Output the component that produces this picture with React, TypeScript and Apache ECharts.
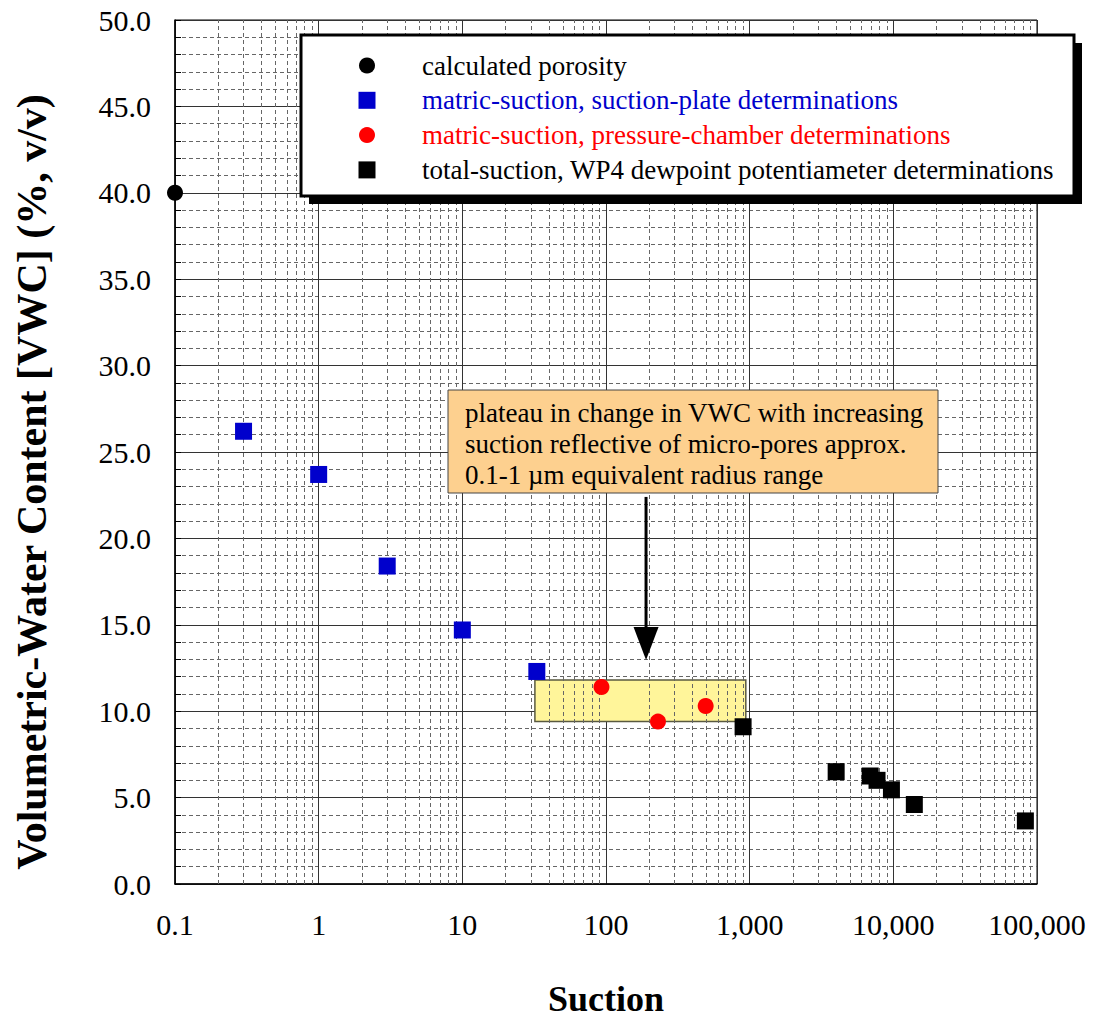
import React, { useEffect, useRef } from 'react';
import * as echarts from 'echarts';

// ---- data ----
const xTickLabels = ['0.1', '1', '10', '100', '1,000', '10,000', '100,000'];
const porosityX = [0.1];
const porosityY = [40];
const plateX = [0.3, 1, 3, 10, 33];
const plateY = [26.2, 23.7, 18.4, 14.7, 12.3];
const chamberX = [93, 230, 494];
const chamberY = [11.4, 9.4, 10.3];
const wp4X = [900, 4000, 6900, 7700, 9700, 14000, 83000];
const wp4Y = [9.1, 6.5, 6.25, 6.0, 5.45, 4.6, 3.65];
const plateauX = [32, 940];
const plateauY = [9.4, 11.8];
const arrowX = 190;
const arrowY = [22.4, 12.96];
const yTitle = 'Volumetric-Water Content [VWC] (%, v/v)';
const xTitle = 'Suction';
const legendLabels = [
  'calculated porosity',
  'matric-suction, suction-plate determinations',
  'matric-suction, pressure-chamber determinations',
  'total-suction, WP4 dewpoint potentiameter determinations',
];
const annotationLines = [
  'plateau in change in VWC with increasing',
  'suction reflective of micro-pores approx.',
  '0.1-1 \u00b5m equivalent radius range',
];

const FONT = 'Liberation Serif';
const BLUE = '#0000CC';
const RED = '#FF0000';

export default function App() {
  const ref = useRef<HTMLDivElement>(null);
  useEffect(() => {
    const chart = echarts.init(ref.current!, null, { renderer: 'svg' });
    const minorXs: number[] = [];
    for (let e = -1; e < 5; e++) {
      for (let m = 2; m <= 9; m++) minorXs.push(Number((m * Math.pow(10, e)).toPrecision(6)));
    }
    const zip = (xs: number[], ys: number[]) => xs.map((x, i) => [x, ys[i]]);

    const option: any = {
      animation: false,
      backgroundColor: '#fff',
      textStyle: { fontFamily: FONT },
      grid: {
        left: 175, right: 63, top: 20, bottom: 135,
        outerBoundsMode: 'none', containLabel: false,
        show: true, borderColor: '#000', borderWidth: 1, backgroundColor: 'transparent',
      },
      xAxis: {
        type: 'log', logBase: 10, min: 0.1, max: 100000, interval: 1,
        name: xTitle, nameLocation: 'middle', nameGap: 97,
        nameTextStyle: { fontFamily: FONT, fontSize: 36, fontWeight: 'bold', color: '#000' },
        axisLine: { show: true, lineStyle: { color: '#000', width: 1.5 } },
        axisTick: { show: false },
        axisLabel: {
          fontFamily: FONT, fontSize: 30, color: '#000', margin: 25,
          formatter: (v: number) => xTickLabels[Math.round(Math.log10(v)) + 1] ?? '',
        },
        splitLine: { show: true, lineStyle: { color: '#333', width: 1 } },
      },
      yAxis: {
        type: 'value', min: 0, max: 50, interval: 5,
        axisLine: { show: true, lineStyle: { color: '#000', width: 1.5 } },
        axisTick: { show: true, inside: true, length: 6, lineStyle: { color: '#000' } },
        minorTick: { show: true, splitNumber: 5, length: 6, lineStyle: { color: '#000' } },
        axisLabel: {
          fontFamily: FONT, fontSize: 30, color: '#000', margin: 24,
          formatter: (v: number) => v.toFixed(1),
        },
        splitLine: { show: true, lineStyle: { color: '#333', width: 1 } },
        minorSplitLine: { show: true, lineStyle: { color: '#666', width: 1, type: [4, 3] } },
      },
      series: [
        {
          name: 'minor-grid', type: 'scatter', data: [], silent: true, z: 1,
          markLine: {
            silent: true, symbol: ['none', 'none'], label: { show: false },
            lineStyle: { color: '#666', width: 1, type: [4, 3] },
            emphasis: { disabled: true },
            data: minorXs.map((v) => ({ xAxis: v })),
          },
          markArea: {
            silent: true,
            itemStyle: { color: '#FFF59A', borderColor: '#5a5a40', borderWidth: 1.5, opacity: 1 },
            label: { show: false },
            data: [[{ coord: [plateauX[0], plateauY[1]] }, { coord: [plateauX[1], plateauY[0]] }]],
          },
        },
        {
          name: legendLabels[0], type: 'scatter', symbol: 'circle', symbolSize: 16, clip: false, z: 5,
          itemStyle: { color: '#000', opacity: 1 }, data: zip(porosityX, porosityY),
        },
        {
          name: legendLabels[1], type: 'scatter', symbol: 'rect', symbolSize: 17, clip: false, z: 5,
          itemStyle: { color: BLUE, opacity: 1 }, data: zip(plateX, plateY),
        },
        {
          name: legendLabels[2], type: 'scatter', symbol: 'circle', symbolSize: 16, clip: false, z: 5,
          itemStyle: { color: RED, opacity: 1 }, data: zip(chamberX, chamberY),
        },
        {
          name: legendLabels[3], type: 'scatter', symbol: 'rect', symbolSize: 17, clip: false, z: 5,
          itemStyle: { color: '#000', opacity: 1 }, data: zip(wp4X, wp4Y),
        },
      ],
    };
    chart.setOption(option);

    const a0 = chart.convertToPixel({ gridIndex: 0 } as any, [arrowX, arrowY[0]]) as number[];
    const a1 = chart.convertToPixel({ gridIndex: 0 } as any, [arrowX, arrowY[1]]) as number[];
    const headLen = 33;
    const headHalf = 12.5;

    const legendIcons = ['circle', 'rect', 'circle', 'rect'];
    const legendColors = ['#000', BLUE, RED, '#000'];
    const legendTextColors = ['#000', BLUE, RED, '#000'];
    const lx = 301, ly = 35, lw = 773, lh = 161;
    const legendEls: any[] = [
      { type: 'rect', shape: { x: lx + 8, y: ly + 8, width: lw, height: lh }, style: { fill: '#000' }, z: 100 },
      { type: 'rect', shape: { x: lx, y: ly, width: lw, height: lh }, style: { fill: '#fff', stroke: '#000', lineWidth: 3 }, z: 101 },
    ];
    legendLabels.forEach((t, i) => {
      const cy = 65.5 + i * 34.8;
      if (legendIcons[i] === 'circle') {
        legendEls.push({ type: 'circle', shape: { cx: 367, cy, r: 8 }, style: { fill: legendColors[i] }, z: 102 });
      } else {
        legendEls.push({ type: 'rect', shape: { x: 367 - 8.5, y: cy - 8.5, width: 17, height: 17 }, style: { fill: legendColors[i] }, z: 102 });
      }
      legendEls.push({
        type: 'text', x: 422, y: cy, z: 102,
        style: { text: t, fill: legendTextColors[i], fontFamily: FONT, fontSize: 27, verticalAlign: 'middle' },
      });
    });

    const annEls: any[] = [
      { type: 'rect', shape: { x: 448, y: 390, width: 490, height: 103 }, style: { fill: '#FDD08F', stroke: '#444', lineWidth: 1 }, z: 50 },
    ];
    annotationLines.forEach((t, i) => {
      annEls.push({
        type: 'text', x: 465, y: 413 + i * 31, z: 51,
        style: { text: t, fill: '#000', fontFamily: FONT, fontSize: 27, verticalAlign: 'middle' },
      });
    });
    annEls.push({
      type: 'line', z: 52,
      shape: { x1: a0[0], y1: a0[1], x2: a1[0], y2: a1[1] - headLen + 2 },
      style: { stroke: '#000', lineWidth: 3 },
    });
    annEls.push({
      type: 'polygon', z: 52,
      shape: { points: [[a1[0] - headHalf, a1[1] - headLen], [a1[0] + headHalf, a1[1] - headLen], [a1[0], a1[1]]] },
      style: { fill: '#000' },
    });
    const titleEls: any[] = [
      {
        type: 'text', x: 32, y: 482, rotation: Math.PI / 2, z: 10,
        style: { text: yTitle, fill: '#000', fontFamily: FONT, fontSize: 42, fontWeight: 'bold', align: 'center', verticalAlign: 'middle' },
      },
    ];

    chart.setOption({ graphic: [...titleEls, ...annEls, ...legendEls] });

    return () => chart.dispose();
  }, []);
  return <div ref={ref} style={{ position: 'absolute', left: 0, top: 0, width: 1100, height: 1019 }} />;
}
